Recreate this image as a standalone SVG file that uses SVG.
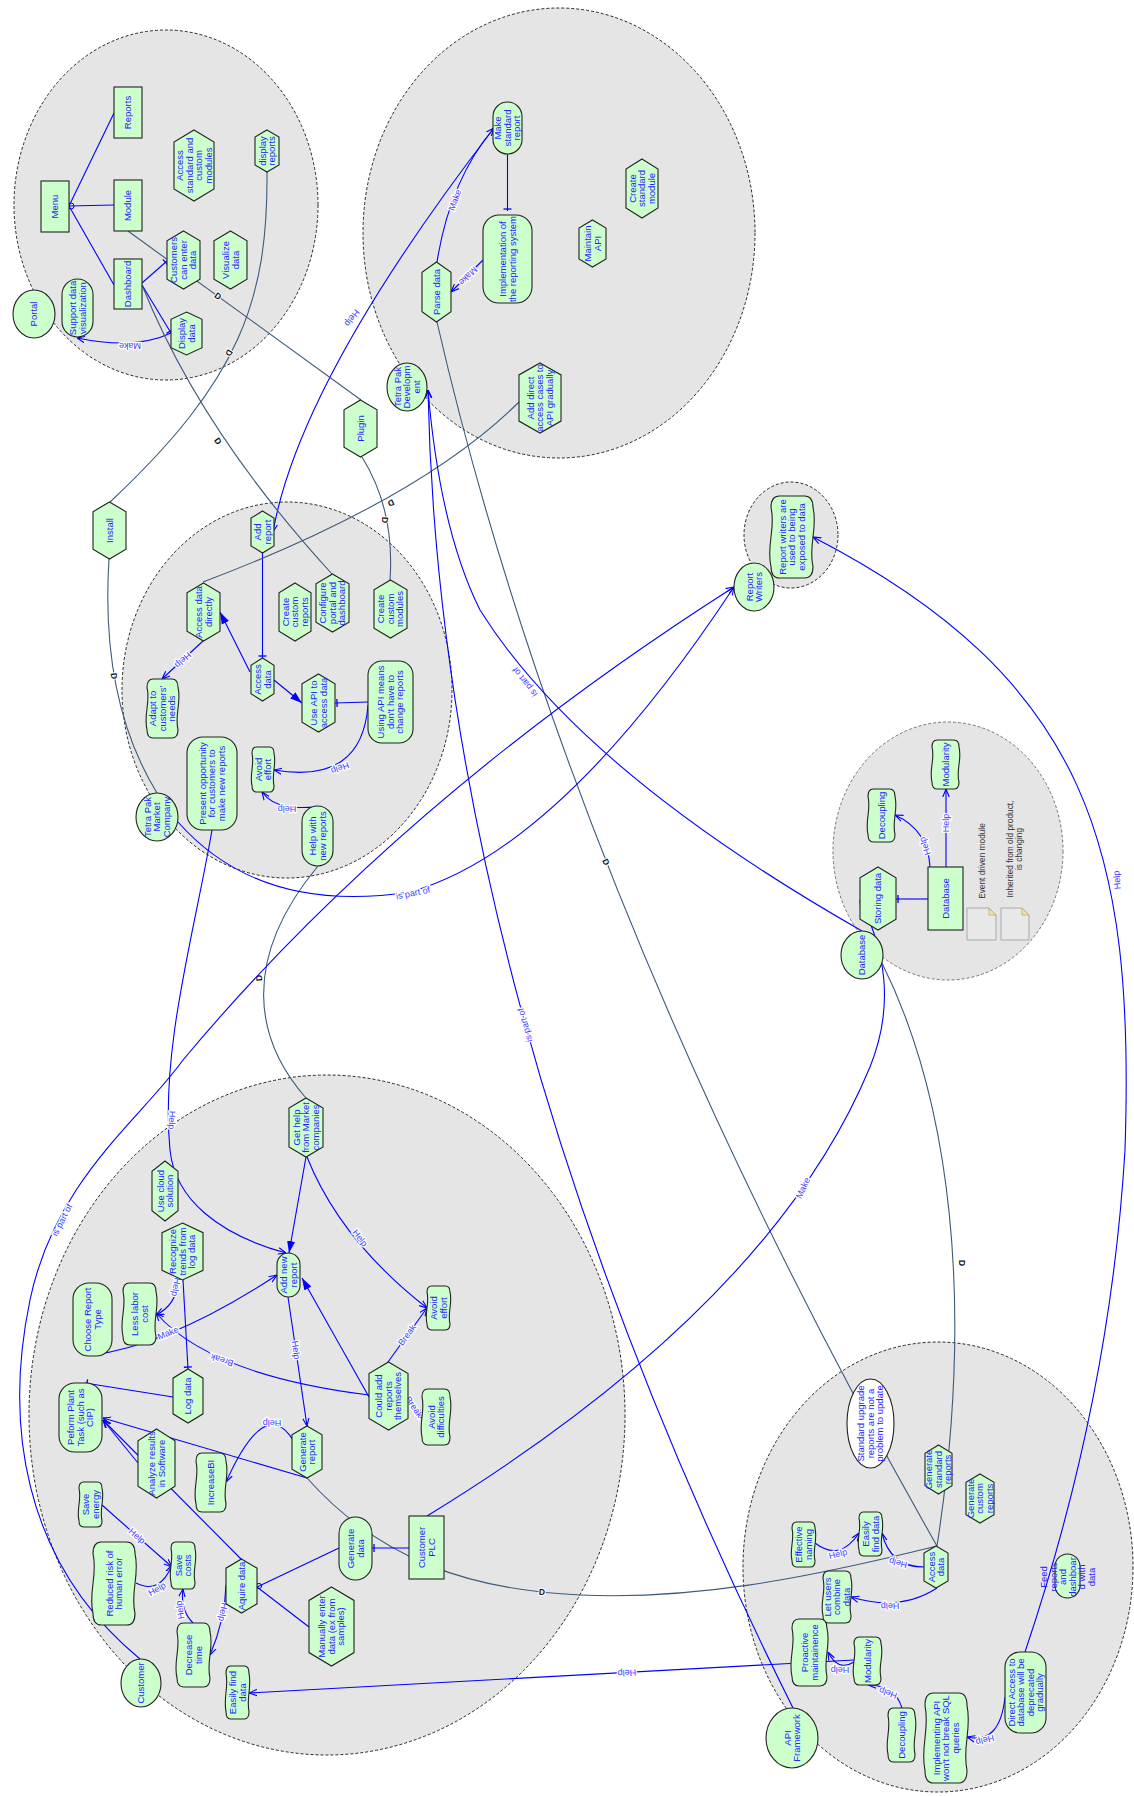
<svg xmlns="http://www.w3.org/2000/svg" xmlns:xlink="http://www.w3.org/1999/xlink" width="1134" height="1796" viewBox="0 0 1134 1796">
<style>
.bd{fill:#e5e5e5;stroke:#111;stroke-width:0.9;stroke-dasharray:3 2}
.n{fill:#ccffcc;stroke:#222;stroke-width:1.1}
.w{fill:#fff;stroke:#222;stroke-width:1.1}
.t{font-family:"Liberation Sans",Arial,sans-serif;font-size:9.5px;fill:#2323ff;text-anchor:middle}
.l{font-family:"Liberation Sans",Arial,sans-serif;font-size:9px;fill:#4040ff;text-anchor:middle;stroke:#fff;stroke-width:2.5;paint-order:stroke}
.d{font-family:"Liberation Sans",Arial,sans-serif;font-size:8.5px;font-weight:bold;fill:#111;text-anchor:middle;stroke:#fff;stroke-width:2;paint-order:stroke}
.nt{font-family:"Liberation Sans",Arial,sans-serif;font-size:8.3px;fill:#333;text-anchor:middle}
.b{fill:none;stroke:#0000ff;stroke-width:1.1}
.s{fill:none;stroke:#3d5a7a;stroke-width:1.1}
.ao{marker-end:url(#ao)}
.af{marker-end:url(#af)}
.tk{marker-end:url(#tk)}
</style>
<defs>
<marker id="ao" viewBox="0 0 10 10" refX="10" refY="5" markerWidth="8" markerHeight="8" markerUnits="userSpaceOnUse" orient="auto"><path d="M0,1 L10,5 L0,9" fill="none" stroke="#0000ff" stroke-width="1.4"/></marker>
<marker id="af" viewBox="0 0 12 10" refX="12" refY="5" markerWidth="12" markerHeight="10" markerUnits="userSpaceOnUse" orient="auto"><path d="M0,1 L12,5 L0,9 z" fill="#0000ff"/></marker>
<marker id="tk" viewBox="0 0 10 10" refX="7" refY="5" markerWidth="10" markerHeight="10" markerUnits="userSpaceOnUse" orient="auto"><path d="M5,1 L5,9" stroke="#0000ff" stroke-width="1.3"/></marker>
<symbol id="hex" viewBox="0 0 100 100" preserveAspectRatio="none" overflow="visible"><polygon points="50,0 100,17 100,83 50,100 0,83 0,17" vector-effect="non-scaling-stroke"/></symbol>
<symbol id="wave" viewBox="0 0 100 100" preserveAspectRatio="none" overflow="visible"><path d="M20,0 L80,0 Q100,0 100,14 C112,40 88,60 100,86 Q100,100 80,100 L20,100 Q0,100 0,86 C-12,60 12,40 0,14 Q0,0 20,0 Z" vector-effect="non-scaling-stroke"/></symbol>
</defs>
<rect width="1134" height="1796" fill="#fff"/>

<!-- boundaries -->
<g id="boundaries">
<ellipse id="b-portal" class="bd" cx="166" cy="205" rx="152" ry="175"/>
<ellipse id="b-dev" class="bd" cx="559" cy="233" rx="196" ry="225"/>
<ellipse id="b-market" class="bd" cx="287" cy="690" rx="165" ry="188"/>
<ellipse id="b-writers" class="bd" cx="791" cy="535" rx="47" ry="53"/>
<ellipse id="b-database" class="bd" cx="948" cy="851" rx="115" ry="129" style="stroke:#666"/>
<ellipse id="b-customer" class="bd" cx="327" cy="1415" rx="298" ry="340"/>
<ellipse id="b-api" class="bd" cx="938" cy="1567" rx="195" ry="225"/>
</g>

<!-- connectors -->
<g id="connectors">
<!-- portal -->
<path class="b" d="M69,206 L114,113"/>
<path class="b" d="M69,206 L114,205"/>
<path class="b" d="M69,206 L114,285"/>
<circle cx="71" cy="206" r="3" fill="none" stroke="#0000ff" stroke-width="1"/>
<path class="b tk" d="M142,283 L167,261"/>
<path class="b tk" d="M142,285 L171,333"/>
<path class="b ao" d="M171,333 Q136,350 77,338"/>
<text class="l" transform="translate(130,346) rotate(180)" y="3">Make</text>
<!-- development -->
<path class="b tk" d="M507.5,154 L507.5,211"/>
<path class="b ao" d="M483,260 L451,292"/>
<text class="l" transform="translate(468,276) rotate(135)" y="3">Make</text>
<path class="b ao" d="M437,262 Q450,180 494,128"/>
<text class="l" transform="translate(455,200) rotate(-70)" y="3">Make</text>
<path class="b ao" d="M494,128 Q300,380 273,532"/>
<text class="l" transform="translate(352,318) rotate(127)" y="3">Help</text>
<!-- market company -->
<path class="b tk" d="M262.5,553 L262.5,658"/>
<path class="b af" d="M250,672 L220,612"/>
<path class="b af" d="M274,680 L302,703"/>
<path class="b tk" d="M368,702 L335,703"/>
<path class="b ao" d="M203,641 L162,679"/>
<text class="l" transform="translate(183,660) rotate(137)" y="3">Help</text>
<path class="b ao" d="M368,705 Q362,785 274,770"/>
<text class="l" transform="translate(340,768) rotate(160)" y="3">Help</text>
<path class="b ao" d="M318,807 C300,808 275,810 262,792"/>
<text class="l" transform="translate(287,809) rotate(180)" y="3">Help</text>
<!-- slate dependency lines -->
<path class="s" d="M109,559 Q100,700 157,793"/>
<text class="d" transform="translate(114,676) rotate(84)" y="3">D</text>
<path class="s" d="M267,172 C268,300 240,380 110,502"/>
<text class="d" transform="translate(229,353) rotate(120)" y="3">D</text>
<path class="s" d="M128,231 L361,400"/>
<text class="d" transform="translate(218,296) rotate(36)" y="3">D</text>
<path class="s" d="M142,285 Q200,430 332,574"/>
<text class="d" transform="translate(218,441) rotate(55)" y="3">D</text>
<path class="s" d="M362,457 Q395,510 390,580"/>
<text class="d" transform="translate(385,520) rotate(95)" y="3">D</text>
<path class="s" d="M519,402 Q420,500 203,582"/>
<text class="d" transform="translate(391,503) rotate(155)" y="3">D</text>
<path class="s" d="M437,322 Q570,900 937,1546"/>
<text class="d" transform="translate(606,862) rotate(65)" y="3">D</text>
<path class="s" d="M882,963 C950,1100 975,1300 937,1546"/>
<text class="d" transform="translate(962,1263) rotate(90)" y="3">D</text>
<path class="s" d="M307,1478 C380,1560 470,1590 580,1595 S800,1580 937,1546"/>
<text class="d" transform="translate(542,1592) rotate(3)" y="3">D</text>
<path class="s" d="M306,1098 C255,1040 240,960 318,866"/>
<text class="d" transform="translate(259,978) rotate(-95)" y="3">D</text>
<!-- long links -->
<path class="b ao" d="M212,830 C195,930 160,1050 170,1150 C175,1200 220,1235 286,1253"/>
<text class="l" transform="translate(172,1120) rotate(92)" y="3">Help</text>
<path class="b ao" d="M178,822 Q260,915 410,892 Q560,850 734,587"/>
<text class="l" transform="translate(413,893) rotate(-12)" y="3">is part of</text>
<path class="b ao" d="M140,1659 C20,1560 5,1420 30,1300 S140,1120 183,1060 Q400,800 734,587"/>
<text class="l" transform="translate(62,1220) rotate(-63)" y="3">is part of</text>
<path class="b ao" d="M793,1708 Q440,1000 428,390"/>
<text class="l" transform="translate(525,1025) rotate(-105)" y="3">is part of</text>
<path class="b ao" d="M862,931 Q580,770 480,610 Q440,530 428,390"/>
<text class="l" transform="translate(525,682) rotate(-128)" y="3">is part of</text>
<!-- database -->
<path class="b tk" d="M928,899 L896,899"/>
<path class="b ao" d="M930,867 Q928,830 895,815"/>
<text class="l" transform="translate(925,846) rotate(-110)" y="3">Help</text>
<path class="b ao" d="M946,867 L946,789"/>
<text class="l" transform="translate(946,823) rotate(-90)" y="3">Help</text>
<path class="b ao" d="M427,1516 C600,1410 790,1260 870,1067 C895,1005 885,950 860,900"/>
<text class="l" transform="translate(803,1188) rotate(-66)" y="3">Make</text>
<!-- api framework -->
<path class="b ao" d="M815,1543 Q840,1562 859,1533"/>
<text class="l" transform="translate(838,1554) rotate(-15)" y="3">Help</text>
<path class="b ao" d="M924,1567 Q890,1567 882,1533"/>
<text class="l" transform="translate(898,1563) rotate(195)" y="3">Help</text>
<path class="b ao" d="M937,1588 Q900,1612 851,1597"/>
<text class="l" transform="translate(890,1606) rotate(178)" y="3">Help</text>
<path class="b ao" d="M854,1662 Q838,1672 828,1652"/>
<text class="l" transform="translate(840,1670) rotate(180)" y="3">Help</text>
<path class="b ao" d="M902,1708 Q895,1685 868,1685"/>
<text class="l" transform="translate(888,1693) rotate(200)" y="3">Help</text>
<path class="b ao" d="M1005,1697 Q1000,1745 967,1737"/>
<text class="l" transform="translate(985,1740) rotate(165)" y="3">Help</text>
<path class="b ao" d="M1025,1652 Q1110,1400 1125,1150 C1135,850 1090,680 813,537"/>
<text class="l" transform="translate(1117,880) rotate(-95)" y="3">Help</text>
<path class="b ao" d="M854,1660 L249,1693"/>
<text class="l" transform="translate(627,1673) rotate(177)" y="3">Help</text>
<!-- customer -->
<path class="b af" d="M306,1157 L289,1253"/>
<path class="b ao" d="M307,1157 Q340,1240 427,1308"/>
<text class="l" transform="translate(360,1238) rotate(52)" y="3">Help</text>
<path class="b ao" d="M288,1297 L307,1426"/>
<text class="l" transform="translate(296,1350) rotate(82)" y="3">Help</text>
<path class="b af" d="M369,1397 L302,1278"/>
<path class="b ao" d="M388,1362 L427,1308"/>
<text class="l" transform="translate(407,1335) rotate(-54)" y="3">Break</text>
<path class="b ao" d="M407,1397 L422,1418"/>
<text class="l" transform="translate(414,1407) rotate(54)" y="3">Break</text>
<path class="b ao" d="M369,1395 Q210,1375 156,1313"/>
<text class="l" transform="translate(222,1360) rotate(198)" y="3">Break</text>
<path class="b ao" d="M92,1355 Q170,1345 277,1275"/>
<text class="l" transform="translate(168,1333) rotate(-22)" y="3">Make</text>
<path class="b ao" d="M163,1250 C180,1270 185,1300 156,1315"/>
<text class="l" transform="translate(176,1287) rotate(100)" y="3">Help</text>
<path class="b tk" d="M183,1280 L188,1369"/>
<path class="b tk" d="M173,1397 L85,1383"/>
<path class="b ao" d="M293,1440 Q265,1395 226,1482"/>
<text class="l" transform="translate(272,1423) rotate(180)" y="3">Help</text>
<path class="b ao" d="M307,1478 L103,1418"/>
<path class="b ao" d="M138,1463 L103,1420"/>
<path class="b ao" d="M242,1560 L103,1420"/>
<path class="b tk" d="M409,1548 L372,1548"/>
<path class="b" d="M339,1548 L257,1587"/>
<path class="b" d="M309,1627 L257,1587"/>
<circle cx="259" cy="1586" r="2.6" fill="none" stroke="#0000ff" stroke-width="1"/>
<path class="b ao" d="M226,1585 Q225,1620 210,1655"/>
<text class="l" transform="translate(223,1612) rotate(100)" y="3">Help</text>
<path class="b ao" d="M193,1623 Q180,1610 183,1589"/>
<text class="l" transform="translate(180,1610) rotate(-100)" y="3">Help</text>
<path class="b ao" d="M136,1583 Q160,1595 172,1565"/>
<text class="l" transform="translate(157,1589) rotate(-30)" y="3">Help</text>
<path class="b ao" d="M102,1505 L172,1567"/>
<text class="l" transform="translate(137,1536) rotate(41)" y="3">Help</text>
</g>

<!-- portal nodes -->
<g id="n-reports"><rect class="n" x="114" y="87" width="28" height="51"/><text class="t" transform="translate(128,112.5) rotate(-90)"><tspan x="0" y="3.3">Reports</tspan></text></g>
<g id="n-menu"><rect class="n" x="41" y="181" width="28" height="51"/><text class="t" transform="translate(55,206.5) rotate(-90)"><tspan x="0" y="3.3">Menu</tspan></text></g>
<g id="n-module"><rect class="n" x="114" y="180" width="28" height="51"/><text class="t" transform="translate(128,205.5) rotate(-90)"><tspan x="0" y="3.3">Module</tspan></text></g>
<g id="n-dashboard"><rect class="n" x="114" y="259" width="28" height="50"/><text class="t" transform="translate(128,284) rotate(-90)"><tspan x="0" y="3.3">Dashboard</tspan></text></g>
<g id="n-access-modules"><use href="#hex" class="n" x="174" y="130" width="40" height="71"/><text class="t" transform="translate(194,165.5) rotate(-90)"><tspan x="0" y="-10.95">Access</tspan><tspan x="0" y="-1.45">standard and</tspan><tspan x="0" y="8.05">custom</tspan><tspan x="0" y="17.55">modules</tspan></text></g>
<g id="n-display-reports"><use href="#hex" class="n" x="255" y="130" width="24" height="42"/><text class="t" transform="translate(267,151) rotate(-90)"><tspan x="0" y="-1.45">display</tspan><tspan x="0" y="8.05">reports</tspan></text></g>
<g id="n-enter-data"><use href="#hex" class="n" x="167" y="231" width="33" height="58"/><text class="t" transform="translate(183.5,260) rotate(-90)"><tspan x="0" y="-6.2">Customers</tspan><tspan x="0" y="3.3">can enter</tspan><tspan x="0" y="12.8">data</tspan></text></g>
<g id="n-visualize"><use href="#hex" class="n" x="214" y="231" width="33" height="58"/><text class="t" transform="translate(230.5,260) rotate(-90)"><tspan x="0" y="-1.45">Visualize</tspan><tspan x="0" y="8.05">data</tspan></text></g>
<g id="n-display-data"><use href="#hex" class="n" x="171" y="312" width="31" height="43"/><text class="t" transform="translate(186.5,333.5) rotate(-90)"><tspan x="0" y="-1.45">Display</tspan><tspan x="0" y="8.05">data</tspan></text></g>
<g id="n-support-vis"><rect class="n" x="62" y="279" width="31" height="58" rx="15.5"/><text class="t" transform="translate(77.5,308) rotate(-90)"><tspan x="0" y="-1.45">Support data</tspan><tspan x="0" y="8.05">visualization</tspan></text></g>
<g id="n-portal"><ellipse class="n" cx="34" cy="314" rx="21" ry="24"/><text class="t" transform="translate(34,314) rotate(-90)"><tspan x="0" y="3.3">Portal</tspan></text></g>

<!-- development nodes -->
<g id="n-make-standard"><rect class="n" x="493" y="102" width="29" height="52" rx="14.5"/><text class="t" transform="translate(507.5,128) rotate(-90)"><tspan x="0" y="-6.2">Make</tspan><tspan x="0" y="3.3">standard</tspan><tspan x="0" y="12.8">report</tspan></text></g>
<g id="n-implementation"><rect class="n" x="483" y="215" width="49" height="88" rx="16"/><text class="t" transform="translate(507.5,259) rotate(-90)"><tspan x="0" y="-1.45">Implementation of</tspan><tspan x="0" y="8.05">the reporting system</tspan></text></g>
<g id="n-parse"><use href="#hex" class="n" x="422" y="262" width="29" height="60"/><text class="t" transform="translate(436.5,292) rotate(-90)"><tspan x="0" y="3.3">Parse data</tspan></text></g>
<g id="n-maintain-api"><use href="#hex" class="n" x="579" y="220" width="27" height="47"/><text class="t" transform="translate(592.5,243.5) rotate(-90)"><tspan x="0" y="-1.45">Maintain</tspan><tspan x="0" y="8.05">API</tspan></text></g>
<g id="n-create-standard"><use href="#hex" class="n" x="626" y="159" width="32" height="59"/><text class="t" transform="translate(642,188.5) rotate(-90)"><tspan x="0" y="-6.2">Create</tspan><tspan x="0" y="3.3">standard</tspan><tspan x="0" y="12.8">module</tspan></text></g>
<g id="n-add-direct"><use href="#hex" class="n" x="519" y="363" width="42" height="70"/><text class="t" transform="translate(540,398) rotate(-90)"><tspan x="0" y="-6.2">Add direct</tspan><tspan x="0" y="3.3">access cases to</tspan><tspan x="0" y="12.8">API gradually</tspan></text></g>
<g id="n-plugin"><use href="#hex" class="n" x="344" y="400" width="33" height="57"/><text class="t" transform="translate(360.5,428.5) rotate(-90)"><tspan x="0" y="3.3">Plugin</tspan></text></g>
<g id="n-tp-dev"><ellipse class="n" cx="407" cy="387" rx="20" ry="24"/><text class="t" transform="translate(407,387) rotate(-90)"><tspan x="0" y="-6.2">Tetra Pak</tspan><tspan x="0" y="3.3">Developm</tspan><tspan x="0" y="12.8">ent</tspan></text></g>

<!-- market company nodes -->
<g id="n-install"><use href="#hex" class="n" x="93" y="502" width="33" height="57"/><text class="t" transform="translate(109.5,530.5) rotate(-90)"><tspan x="0" y="3.3">Install</tspan></text></g>
<g id="n-add-report"><use href="#hex" class="n" x="251" y="511" width="23" height="42"/><text class="t" transform="translate(262.5,532) rotate(-90)"><tspan x="0" y="-1.45">Add</tspan><tspan x="0" y="8.05">report</tspan></text></g>
<g id="n-access-directly"><use href="#hex" class="n" x="187" y="583" width="33" height="58"/><text class="t" transform="translate(203.5,612) rotate(-90)"><tspan x="0" y="-1.45">Access data</tspan><tspan x="0" y="8.05">directly</tspan></text></g>
<g id="n-create-custom-reports"><use href="#hex" class="n" x="279" y="583" width="32" height="58"/><text class="t" transform="translate(295,612) rotate(-90)"><tspan x="0" y="-6.2">Create</tspan><tspan x="0" y="3.3">custom</tspan><tspan x="0" y="12.8">reports</tspan></text></g>
<g id="n-configure"><use href="#hex" class="n" x="316" y="574" width="33" height="58"/><text class="t" transform="translate(332.5,603) rotate(-90)"><tspan x="0" y="-6.2">Configure</tspan><tspan x="0" y="3.3">portal and</tspan><tspan x="0" y="12.8">dashboard</tspan></text></g>
<g id="n-create-custom-modules"><use href="#hex" class="n" x="374" y="580" width="33" height="58"/><text class="t" transform="translate(390.5,609) rotate(-90)"><tspan x="0" y="-6.2">Create</tspan><tspan x="0" y="3.3">custom</tspan><tspan x="0" y="12.8">modules</tspan></text></g>
<g id="n-access-data-m"><use href="#hex" class="n" x="251" y="658" width="23" height="43"/><text class="t" transform="translate(262.5,679.5) rotate(-90)"><tspan x="0" y="-1.45">Access</tspan><tspan x="0" y="8.05">data</tspan></text></g>
<g id="n-use-api"><use href="#hex" class="n" x="302" y="674" width="33" height="58"/><text class="t" transform="translate(318.5,703) rotate(-90)"><tspan x="0" y="-1.45">Use API to</tspan><tspan x="0" y="8.05">access data</tspan></text></g>
<g id="n-using-api"><rect class="n" x="368" y="661" width="45" height="82" rx="14"/><text class="t" transform="translate(390.5,702) rotate(-90)"><tspan x="0" y="-6.2">Using API means</tspan><tspan x="0" y="3.3">don't have to</tspan><tspan x="0" y="12.8">change reports</tspan></text></g>
<g id="n-adapt"><use href="#wave" class="n" x="147" y="679" width="31" height="59"/><text class="t" transform="translate(162.5,708.5) rotate(-90)"><tspan x="0" y="-6.2">Adapt to</tspan><tspan x="0" y="3.3">customers'</tspan><tspan x="0" y="12.8">needs</tspan></text></g>
<g id="n-present"><rect class="n" x="187" y="737" width="50" height="93" rx="16"/><text class="t" transform="translate(212,783.5) rotate(-90)"><tspan x="0" y="-6.2">Present opportunity</tspan><tspan x="0" y="3.3">for customers to</tspan><tspan x="0" y="12.8">make new reports</tspan></text></g>
<g id="n-avoid-effort-m"><use href="#wave" class="n" x="252" y="747" width="22" height="45"/><text class="t" transform="translate(263,769.5) rotate(-90)"><tspan x="0" y="-1.45">Avoid</tspan><tspan x="0" y="8.05">effort</tspan></text></g>
<g id="n-help-new"><rect class="n" x="302" y="806" width="31" height="60" rx="15.5"/><text class="t" transform="translate(317.5,836) rotate(-90)"><tspan x="0" y="-1.45">Help with</tspan><tspan x="0" y="8.05">new reports</tspan></text></g>
<g id="n-tp-market"><ellipse class="n" cx="157" cy="817" rx="21" ry="24"/><text class="t" transform="translate(157,817) rotate(-90)"><tspan x="0" y="-6.2">Tetra Pak</tspan><tspan x="0" y="3.3">Market</tspan><tspan x="0" y="12.8">Company</tspan></text></g>

<!-- report writers -->
<g id="n-writers-used"><use href="#wave" class="n" x="771" y="496" width="42" height="82"/><text class="t" transform="translate(792,537) rotate(-90)"><tspan x="0" y="-6.2">Report writers are</tspan><tspan x="0" y="3.3">used to being</tspan><tspan x="0" y="12.8">exposed to data</tspan></text></g>
<g id="n-report-writers"><ellipse class="n" cx="754" cy="587" rx="20" ry="24"/><text class="t" transform="translate(754,587) rotate(-90)"><tspan x="0" y="-1.45">Report</tspan><tspan x="0" y="8.05">Writers</tspan></text></g>

<!-- database -->
<g id="n-database-actor"><ellipse class="n" cx="862" cy="955" rx="21" ry="24"/><text class="t" transform="translate(862,955) rotate(-90)"><tspan x="0" y="3.3">Database</tspan></text></g>
<g id="n-storing"><use href="#hex" class="n" x="860" y="867" width="36" height="63"/><text class="t" transform="translate(878,898.5) rotate(-90)"><tspan x="0" y="3.3">Storing data</tspan></text></g>
<g id="n-database"><rect class="n" x="928" y="867" width="35" height="63"/><text class="t" transform="translate(945.5,898.5) rotate(-90)"><tspan x="0" y="3.3">Database</tspan></text></g>
<g id="n-decoupling-db"><use href="#wave" class="n" x="868" y="789" width="27" height="53"/><text class="t" transform="translate(881.5,815.5) rotate(-90)"><tspan x="0" y="3.3">Decoupling</tspan></text></g>
<g id="n-modularity-db"><use href="#wave" class="n" x="932" y="740" width="27" height="49"/><text class="t" transform="translate(945.5,764.5) rotate(-90)"><tspan x="0" y="3.3">Modularity</tspan></text></g>
<g id="n-note-event">
<path d="M967,908 H989 L996,915 V940 H967 Z" fill="#e8e8e8" stroke="#aaa" stroke-width="1"/>
<path d="M989,908 L996,915 L989,915 Z" fill="#f3e2a8" stroke="#b8a060" stroke-width="0.7"/>
<text class="nt" transform="translate(982,861) rotate(-90)" y="3">Event driven module</text>
</g>
<g id="n-note-inherited">
<path d="M1001,908 H1022 L1029,915 V940 H1001 Z" fill="#e8e8e8" stroke="#aaa" stroke-width="1"/>
<path d="M1022,908 L1029,915 L1022,915 Z" fill="#f3e2a8" stroke="#b8a060" stroke-width="0.7"/>
<text class="nt" transform="translate(1014,849) rotate(-90)"><tspan x="0" y="-1.5">Inherited from old product,</tspan><tspan x="0" y="8">is changing</tspan></text>
</g>

<!-- customer nodes -->
<g id="n-get-help"><use href="#hex" class="n" x="289" y="1098" width="34" height="59"/><text class="t" transform="translate(306,1127.5) rotate(-90)"><tspan x="0" y="-6.2">Get help</tspan><tspan x="0" y="3.3">from Market</tspan><tspan x="0" y="12.8">companies</tspan></text></g>
<g id="n-cloud"><use href="#hex" class="n" x="152" y="1161" width="26" height="60"/><text class="t" transform="translate(165,1191) rotate(-90)"><tspan x="0" y="-1.45">Use cloud</tspan><tspan x="0" y="8.05">solution</tspan></text></g>
<g id="n-recognize"><use href="#hex" class="n" x="162" y="1223" width="41" height="57"/><text class="t" transform="translate(182.5,1251.5) rotate(-90)"><tspan x="0" y="-6.2">Recognize</tspan><tspan x="0" y="3.3">trends from</tspan><tspan x="0" y="12.8">log data</tspan></text></g>
<g id="n-add-new"><rect class="n" x="277" y="1253" width="23" height="44" rx="11.5"/><text class="t" transform="translate(288.5,1275) rotate(-90)"><tspan x="0" y="-1.45">Add new</tspan><tspan x="0" y="8.05">report</tspan></text></g>
<g id="n-choose-type"><rect class="n" x="73" y="1283" width="39" height="73" rx="16"/><text class="t" transform="translate(92.5,1319.5) rotate(-90)"><tspan x="0" y="-1.45">Choose Report</tspan><tspan x="0" y="8.05">Type</tspan></text></g>
<g id="n-labor"><use href="#wave" class="n" x="123" y="1283" width="33" height="62"/><text class="t" transform="translate(139.5,1314) rotate(-90)"><tspan x="0" y="-1.45">Less labor</tspan><tspan x="0" y="8.05">cost</tspan></text></g>
<g id="n-avoid-effort-c"><use href="#wave" class="n" x="427" y="1286" width="23" height="44"/><text class="t" transform="translate(438.5,1308) rotate(-90)"><tspan x="0" y="-1.45">Avoid</tspan><tspan x="0" y="8.05">effort</tspan></text></g>
<g id="n-log"><use href="#hex" class="n" x="173" y="1369" width="30" height="54"/><text class="t" transform="translate(188,1396) rotate(-90)"><tspan x="0" y="3.3">Log data</tspan></text></g>
<g id="n-could-add"><use href="#hex" class="n" x="369" y="1362" width="39" height="68"/><text class="t" transform="translate(388.5,1396) rotate(-90)"><tspan x="0" y="-6.2">Could add</tspan><tspan x="0" y="3.3">reports</tspan><tspan x="0" y="12.8">themselves</tspan></text></g>
<g id="n-difficulties"><use href="#wave" class="n" x="422" y="1389" width="28" height="56"/><text class="t" transform="translate(436,1417) rotate(-90)"><tspan x="0" y="-1.45">Avoid</tspan><tspan x="0" y="8.05">difficulties</tspan></text></g>
<g id="n-plant-task"><rect class="n" x="59" y="1383" width="43" height="69" rx="16"/><text class="t" transform="translate(80.5,1417.5) rotate(-90)"><tspan x="0" y="-6.2">Peform Plant</tspan><tspan x="0" y="3.3">Task (such as</tspan><tspan x="0" y="12.8">CIP)</tspan></text></g>
<g id="n-generate-report"><use href="#hex" class="n" x="292" y="1426" width="30" height="52"/><text class="t" transform="translate(307,1452) rotate(-90)"><tspan x="0" y="-1.45">Generate</tspan><tspan x="0" y="8.05">report</tspan></text></g>
<g id="n-analyze"><use href="#hex" class="n" x="138" y="1429" width="37" height="69"/><text class="t" transform="translate(156.5,1463.5) rotate(-90)"><tspan x="0" y="-1.45">Analyze results</tspan><tspan x="0" y="8.05">in Software</tspan></text></g>
<g id="n-increasebi"><use href="#wave" class="n" x="196" y="1453" width="30" height="59"/><text class="t" transform="translate(211,1482.5) rotate(-90)"><tspan x="0" y="3.3">IncreaseBI</tspan></text></g>
<g id="n-save-energy"><use href="#wave" class="n" x="79" y="1482" width="23" height="45"/><text class="t" transform="translate(90.5,1504.5) rotate(-90)"><tspan x="0" y="-1.45">Save</tspan><tspan x="0" y="8.05">energy</tspan></text></g>
<g id="n-risk"><use href="#wave" class="n" x="93" y="1542" width="42" height="83"/><text class="t" transform="translate(114,1583.5) rotate(-90)"><tspan x="0" y="-1.45">Reduced risk of</tspan><tspan x="0" y="8.05">human error</tspan></text></g>
<g id="n-save-costs"><use href="#wave" class="n" x="171" y="1542" width="24" height="47"/><text class="t" transform="translate(183,1565.5) rotate(-90)"><tspan x="0" y="-1.45">Save</tspan><tspan x="0" y="8.05">costs</tspan></text></g>
<g id="n-aquire"><use href="#hex" class="n" x="226" y="1559" width="31" height="54"/><text class="t" transform="translate(241.5,1586) rotate(-90)"><tspan x="0" y="3.3">Aquire data</tspan></text></g>
<g id="n-generate-data"><rect class="n" x="339" y="1517" width="33" height="63" rx="16.5"/><text class="t" transform="translate(355.5,1548.5) rotate(-90)"><tspan x="0" y="-1.45">Generate</tspan><tspan x="0" y="8.05">data</tspan></text></g>
<g id="n-plc"><rect class="n" x="409" y="1516" width="35" height="63"/><text class="t" transform="translate(426.5,1547.5) rotate(-90)"><tspan x="0" y="-1.45">Customer</tspan><tspan x="0" y="8.05">PLC</tspan></text></g>
<g id="n-manual"><use href="#hex" class="n" x="309" y="1587" width="45" height="79"/><text class="t" transform="translate(331.5,1626.5) rotate(-90)"><tspan x="0" y="-6.2">Manually enter</tspan><tspan x="0" y="3.3">data (ex from</tspan><tspan x="0" y="12.8">samples)</tspan></text></g>
<g id="n-decrease"><use href="#wave" class="n" x="177" y="1623" width="33" height="64"/><text class="t" transform="translate(193.5,1655) rotate(-90)"><tspan x="0" y="-1.45">Decrease</tspan><tspan x="0" y="8.05">time</tspan></text></g>
<g id="n-find-c"><use href="#wave" class="n" x="226" y="1666" width="23" height="53"/><text class="t" transform="translate(237.5,1692.5) rotate(-90)"><tspan x="0" y="-1.45">Easily find</tspan><tspan x="0" y="8.05">data</tspan></text></g>
<g id="n-customer"><ellipse class="n" cx="141" cy="1683" rx="20" ry="24"/><text class="t" transform="translate(141,1683) rotate(-90)"><tspan x="0" y="3.3">Customer</tspan></text></g>

<!-- api framework nodes -->
<g id="n-std-upgrade"><ellipse class="w" cx="870.5" cy="1423.5" rx="23.5" ry="44.5"/><text class="t" transform="translate(870.5,1423.5) rotate(-90)"><tspan x="0" y="-6.2">Standard upgrade</tspan><tspan x="0" y="3.3">reports are not a</tspan><tspan x="0" y="12.8">problem to update</tspan></text></g>
<g id="n-gen-standard"><use href="#hex" class="n" x="925" y="1445" width="27" height="49"/><text class="t" transform="translate(938.5,1469.5) rotate(-90)"><tspan x="0" y="-6.2">Generate</tspan><tspan x="0" y="3.3">standard</tspan><tspan x="0" y="12.8">reports</tspan></text></g>
<g id="n-gen-custom"><use href="#hex" class="n" x="966" y="1474" width="28" height="49"/><text class="t" transform="translate(980,1498.5) rotate(-90)"><tspan x="0" y="-6.2">Generate</tspan><tspan x="0" y="3.3">custom</tspan><tspan x="0" y="12.8">reports</tspan></text></g>
<g id="n-naming"><use href="#wave" class="n" x="792" y="1522" width="23" height="45"/><text class="t" transform="translate(803.5,1544.5) rotate(-90)"><tspan x="0" y="-1.45">Effective</tspan><tspan x="0" y="8.05">naming</tspan></text></g>
<g id="n-find-a"><use href="#wave" class="n" x="859" y="1512" width="23" height="44"/><text class="t" transform="translate(870.5,1534) rotate(-90)"><tspan x="0" y="-1.45">Easily</tspan><tspan x="0" y="8.05">find data</tspan></text></g>
<g id="n-access-data-a"><use href="#hex" class="n" x="924" y="1546" width="24" height="42"/><text class="t" transform="translate(936,1567) rotate(-90)"><tspan x="0" y="-1.45">Access</tspan><tspan x="0" y="8.05">data</tspan></text></g>
<g id="n-combine"><use href="#wave" class="n" x="823" y="1571" width="28" height="52"/><text class="t" transform="translate(837,1597) rotate(-90)"><tspan x="0" y="-6.2">Let users</tspan><tspan x="0" y="3.3">combine</tspan><tspan x="0" y="12.8">data</tspan></text></g>
<g id="n-proactive"><use href="#wave" class="n" x="792" y="1619" width="35" height="67"/><text class="t" transform="translate(809.5,1652.5) rotate(-90)"><tspan x="0" y="-1.45">Proactive</tspan><tspan x="0" y="8.05">maintainence</tspan></text></g>
<g id="n-modularity-a"><use href="#wave" class="n" x="854" y="1637" width="27" height="48"/><text class="t" transform="translate(867.5,1661) rotate(-90)"><tspan x="0" y="3.3">Modularity</tspan></text></g>
<g id="n-decoupling-a"><use href="#wave" class="n" x="888" y="1708" width="27" height="54"/><text class="t" transform="translate(901.5,1735) rotate(-90)"><tspan x="0" y="3.3">Decoupling</tspan></text></g>
<g id="n-sql"><use href="#wave" class="n" x="925" y="1693" width="42" height="90"/><text class="t" transform="translate(946,1738) rotate(-90)"><tspan x="0" y="-6.2">Implementing API</tspan><tspan x="0" y="3.3">won't not break SQL</tspan><tspan x="0" y="12.8">queries</tspan></text></g>
<g id="n-deprecated"><rect class="n" x="1005" y="1652" width="41" height="81" rx="15"/><text class="t" transform="translate(1025.5,1692.5) rotate(-90)"><tspan x="0" y="-10.95">Direct Access to</tspan><tspan x="0" y="-1.45">database will be</tspan><tspan x="0" y="8.05">deprecated</tspan><tspan x="0" y="17.55">gradually</tspan></text></g>
<g id="n-feed"><rect class="n" x="1055" y="1554" width="25" height="44" rx="12.5"/><text class="t" transform="translate(1067.5,1577) rotate(-90)"><tspan x="0" y="-20.45">Feed</tspan><tspan x="0" y="-10.95">reports</tspan><tspan x="0" y="-1.45">and</tspan><tspan x="0" y="8.05">dashboar</tspan><tspan x="0" y="17.55">d with</tspan><tspan x="0" y="27.05">data</tspan></text></g>
<g id="n-api-framework"><ellipse class="n" cx="792" cy="1738" rx="26" ry="30"/><text class="t" transform="translate(792,1738) rotate(-90)"><tspan x="0" y="-1.45">API</tspan><tspan x="0" y="8.05">Framework</tspan></text></g>
</svg>
